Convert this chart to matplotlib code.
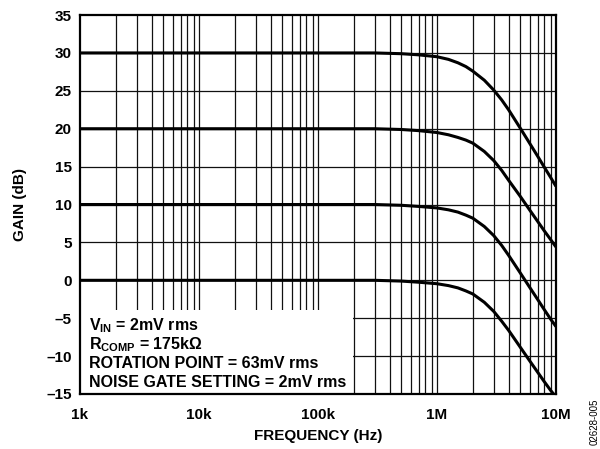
import matplotlib
matplotlib.use("Agg")
import matplotlib.pyplot as plt
from matplotlib.patches import Rectangle
from matplotlib.ticker import FixedLocator, NullFormatter

plt.rcParams['font.family'] = ['Liberation Sans', 'DejaVu Sans']
plt.rcParams['font.weight'] = 'bold'
plt.rcParams['mathtext.fontset'] = 'custom'
plt.rcParams['mathtext.rm'] = 'Liberation Sans:bold'
plt.rcParams['mathtext.bf'] = 'Liberation Sans:bold'
plt.rcParams['mathtext.it'] = 'Liberation Sans:bold'

# frequency (Hz)
freq = [1e3, 1e5, 3e5, 5e5, 7e5, 1e6, 1.25e6, 1.5e6, 1.75e6, 2e6, 2.5e6, 3e6, 3.5e6,
        4e6, 5e6, 6e6, 7e6, 8e6, 9e6, 1e7]

# gain (dB) for the four curves
gain_30 = [30.0, 30.0, 30.0, 29.9, 29.75, 29.5, 29.15, 28.7, 28.2, 27.6, 26.4, 25.1, 23.8,
           22.5, 20.1, 18.1, 16.4, 14.9, 13.6, 12.4]
gain_20 = [20.0, 20.0, 20.0, 19.9, 19.75, 19.5, 19.2, 18.85, 18.5, 18.1, 17.0, 15.8, 14.5,
           13.2, 11.1, 9.3, 7.8, 6.5, 5.4, 4.4]
gain_10 = [10.0, 10.0, 10.0, 9.9, 9.75, 9.55, 9.3, 9.0, 8.6, 8.2, 7.1, 5.9, 4.6,
           3.3, 1.0, -0.9, -2.5, -3.9, -5.1, -6.1]
gain_0 = [0.0, 0.0, 0.0, -0.1, -0.25, -0.45, -0.7, -1.0, -1.4, -1.8, -2.9, -4.1, -5.4,
          -6.6, -8.8, -10.6, -12.1, -13.4, -14.5, -15.4]

x_ticks = [1e3, 1e4, 1e5, 1e6, 1e7]
x_labels = ["1k", "10k", "100k", "1M", "10M"]
y_ticks = [-15, -10, -5, 0, 5, 10, 15, 20, 25, 30, 35]
y_labels = ["\u201315", "\u201310", "\u20135", "0", "5", "10", "15", "20", "25", "30", "35"]

notes = [r"V$_{\mathrm{IN}}$ = 2mV rms",
         r"R$_{\mathrm{COMP}}$ = 175k$\Omega$",
         "ROTATION POINT = 63mV rms",
         "NOISE GATE SETTING = 2mV rms"]

fig = plt.figure(figsize=(6, 4.49), dpi=100)
ax = fig.add_axes([0.1333, 0.1225, 0.7933, 0.844])
ax.set_xscale('log')
ax.set_xlim(1e3, 1e7)
ax.set_ylim(-15, 35)

# grid
minor = [m * 10 ** e for e in range(3, 7) for m in range(2, 10)]
for xv in x_ticks[1:-1] + minor:
    ax.axvline(xv, color='#111111', lw=0.9, zorder=1)
for yv in y_ticks[1:-1]:
    ax.axhline(yv, color='#111111', lw=0.9, zorder=1)

# blank area behind the notes
ax.add_patch(Rectangle((1e3, -15), 1.97e5 - 1e3, 11.1, facecolor='white',
                       edgecolor='none', zorder=2))

for g in [gain_30, gain_20, gain_10, gain_0]:
    ax.plot(freq, g, color='black', lw=2.2, zorder=3, solid_capstyle='butt',
            solid_joinstyle='round')

for i, t in enumerate(notes):
    ax.text(1.2e3, -6.65 - i * 2.47, t, fontsize=11.5, fontweight='bold',
            va='baseline', ha='left', zorder=4)

ax.xaxis.set_major_locator(FixedLocator(x_ticks))
ax.xaxis.set_minor_locator(FixedLocator(minor))
ax.xaxis.set_minor_formatter(NullFormatter())
ax.set_xticks(x_ticks)
ax.set_xticklabels(x_labels)
ax.set_yticks(y_ticks)
ax.set_yticklabels(y_labels)
ax.tick_params(axis='both', which='both', length=0, labelsize=11)
ax.tick_params(axis='x', pad=10)
ax.tick_params(axis='y', pad=6)
for s in ax.spines.values():
    s.set_linewidth(1.6)
    s.set_zorder(5)

ax.set_xlabel("FREQUENCY (Hz)", fontsize=11, fontweight='bold', labelpad=5)
ax.set_ylabel("GAIN (dB)", fontsize=11, fontweight='bold', labelpad=14)

fig.text(0.991, 0.06, "02628-005", rotation=90, fontsize=7, fontweight='normal',
         ha='center', va='center')

fig.savefig("out.png", dpi=100)
